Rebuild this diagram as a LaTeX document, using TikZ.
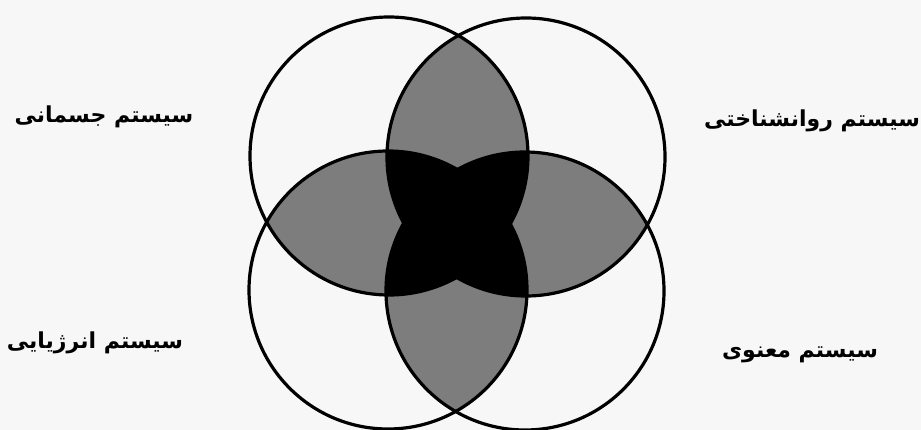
\documentclass[tikz,border=0pt]{standalone}
\usepackage{fontspec}
\newfontfamily\arabicfont[Script=Arabic,BoldFont={DejaVu Sans Bold}]{DejaVu Sans}
\TeXXeTstate=1
\definecolor{bg}{RGB}{247,247,247}
\definecolor{lensgray}{RGB}{125,125,125}
\tikzset{
  ring/.style={draw=black, line width=3.2pt},
  lbl/.style={font=\arabicfont\bfseries\fontsize{22}{26}\selectfont, inner sep=0pt, text=black}
}
\begin{document}
\begin{tikzpicture}[x=1pt,y=-1pt]
\fill[bg] (0,0) rectangle (921,430);
\useasboundingbox (0,0) rectangle (921,430);
\def\R{139}
\coordinate (A) at (389,156);
\coordinate (B) at (526,157);
\coordinate (C) at (388,290);
\coordinate (D) at (525,291);
% pairwise lenses
\foreach \p/\q in {A/B,A/C,A/D,B/C,B/D,C/D}{
  \begin{scope}
    \clip (\p) circle (\R);
    \fill[lensgray] (\q) circle (\R);
  \end{scope}
}
% triple intersections
\foreach \p/\q/\r in {A/B/C,A/B/D,A/C/D,B/C/D}{
  \begin{scope}
    \clip (\p) circle (\R);
    \clip (\q) circle (\R);
    \fill[black] (\r) circle (\R);
  \end{scope}
}
\foreach \p in {A,B,C,D}{ \draw[ring] (\p) circle (\R); }
\node[lbl] (tl) at (104,117) {\beginR سیستم جسمانی\endR};
\node[lbl] (tr) at (812,121) {\beginR سیستم روانشناختی\endR};
\node[lbl] (bl) at (95,343) {\beginR سیستم انرژیایی\endR};
\node[lbl] (br) at (800,355) {\beginR سیستم معنوی\endR};
\end{tikzpicture}
\end{document}
